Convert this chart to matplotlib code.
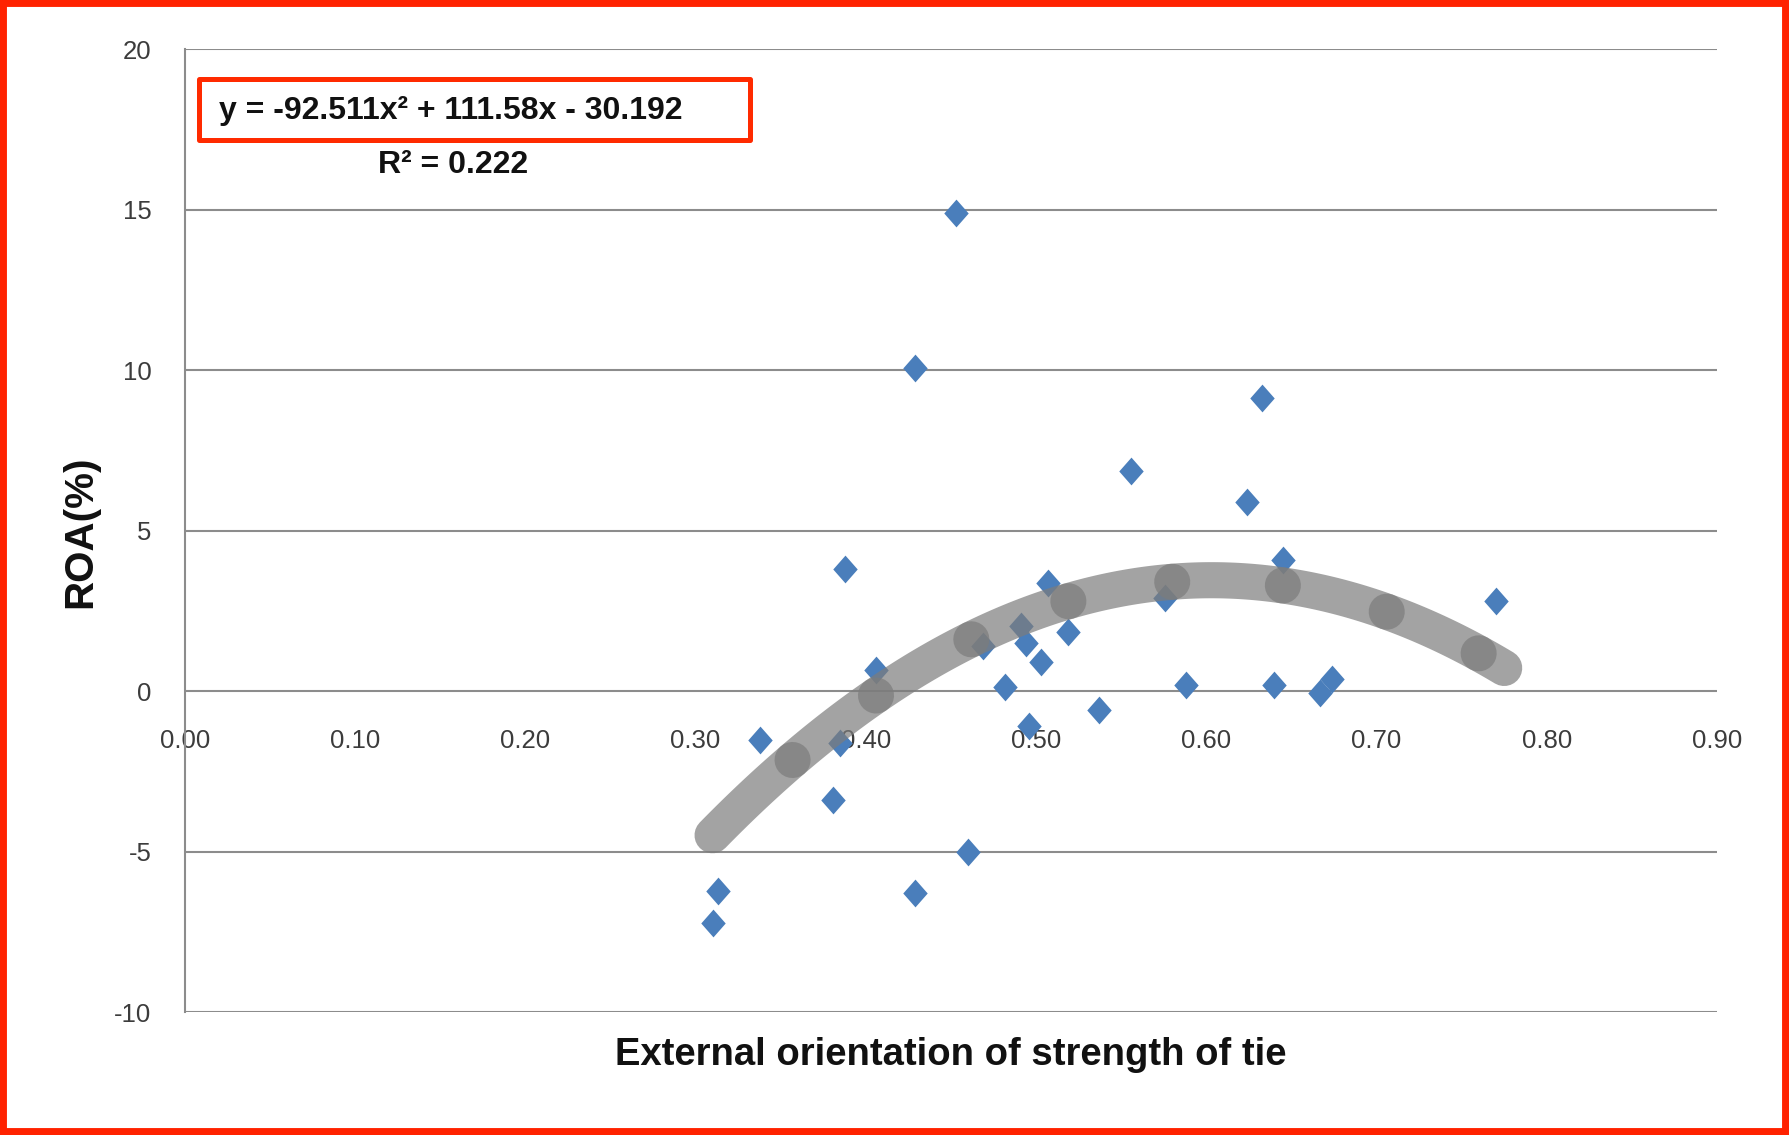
import numpy as np
import matplotlib
matplotlib.use("Agg")
import matplotlib.pyplot as plt
from matplotlib.patches import Rectangle
from matplotlib.path import Path

# ---- data ----
x_vals = [0.453, 0.429, 0.633, 0.556, 0.624, 0.388, 0.645, 0.507, 0.770, 0.576,
          0.491, 0.519, 0.494, 0.469, 0.503, 0.482, 0.496, 0.537, 0.588, 0.640,
          0.667, 0.674, 0.406, 0.338, 0.385, 0.381, 0.313, 0.310, 0.429, 0.460]
y_vals = [14.89, 10.07, 9.13, 6.84, 5.89, 3.80, 4.07, 3.38, 2.81, 2.90,
          2.02, 1.85, 1.50, 1.40, 0.89, 0.12, -1.10, -0.58, 0.20, 0.20,
          -0.06, 0.37, 0.67, -1.54, -1.62, -3.38, -6.24, -7.22, -6.28, -5.03]

trend_coef = [-92.511, 111.58, -30.192]          # quadratic trendline shown on chart
trend_knots = [0.310, 0.357, 0.406, 0.462, 0.519, 0.580, 0.645, 0.706, 0.760, 0.775]

x_ticks = [0.0, 0.1, 0.2, 0.3, 0.4, 0.5, 0.6, 0.7, 0.8, 0.9]
x_tick_labels = ["0.00", "0.10", "0.20", "0.30", "0.40", "0.50", "0.60", "0.70", "0.80", "0.90"]
y_ticks = [-10, -5, 0, 5, 10, 15, 20]
y_tick_labels = ["-10", "-5", "0", "5", "10", "15", "20"]

equation_label = "y = -92.511x\u00b2 + 111.58x - 30.192"
r2_label = "R\u00b2 = 0.222"
x_title = "External orientation of strength of tie"
y_title = "ROA(%)"

# ---- style ----
plt.rcParams["font.family"] = ["Liberation Sans", "DejaVu Sans"]
W, H = 1789, 1135
fig = plt.figure(figsize=(W / 100, H / 100), dpi=100)
fig.patch.set_facecolor("white")

ax_l, ax_r, ax_t, ax_b = 184.8, 1717.0, 49.1, 1012.0
ax = fig.add_axes([ax_l / W, 1 - ax_b / H, (ax_r - ax_l) / W, (ax_b - ax_t) / H])
ax.set_xlim(0, 0.9)
ax.set_ylim(-10, 20)

grid_col = "#8c8c8c"
ax.set_yticks(y_ticks)
ax.set_yticklabels(y_tick_labels)
ax.set_xticks(x_ticks)
ax.set_xticklabels(x_tick_labels)
ax.yaxis.grid(True, color=grid_col, lw=1.5, zorder=0)
ax.set_axisbelow(True)

for s in ["top", "right"]:
    ax.spines[s].set_visible(False)
ax.spines["left"].set_color(grid_col)
ax.spines["left"].set_linewidth(1.5)
ax.spines["bottom"].set_position(("data", 0))
ax.spines["bottom"].set_visible(False)

ax.tick_params(axis="x", length=0, pad=27, labelsize=18.5, labelcolor="#3c3c3c")
ax.tick_params(axis="y", length=0, pad=24, labelsize=18.5, labelcolor="#3c3c3c")

# diamonds (slightly taller than wide)
diamond = Path([(0, 1), (0.88, 0), (0, -1), (-0.88, 0), (0, 1)],
               [Path.MOVETO, Path.LINETO, Path.LINETO, Path.LINETO, Path.CLOSEPOLY])
ax.plot(x_vals, y_vals, linestyle="none", marker=diamond, markersize=20,
        color="#4a7ebb", markeredgewidth=0, zorder=3)

# trendline drawn as overlapping translucent segments (darker joints)
poly = np.poly1d(trend_coef)
for k0, k1 in zip(trend_knots[:-1], trend_knots[1:]):
    xs = np.linspace(k0, k1, 40)
    ax.plot(xs, poly(xs), color="#7c7c7c", alpha=0.7, lw=26,
            solid_capstyle="round", zorder=4)

# equation & R^2
fig.text(451 / W, 1 - 110.7 / H, equation_label, ha="center", va="center",
         fontsize=23, fontweight="bold", color="#111111")
fig.text(453 / W, 1 - 165.4 / H, r2_label, ha="center", va="center",
         fontsize=23, fontweight="bold", color="#111111")
fig.patches.append(Rectangle((198.5 / W, 1 - 139.5 / H), (749.5 - 198.5) / W, (139.5 - 79) / H,
                             transform=fig.transFigure, fill=False, ec="#ff2a00",
                             lw=3.6, joinstyle="round", figure=fig))

# axis titles
fig.text(951 / W, 1 - 1055 / H, x_title, ha="center", va="center",
         fontsize=27.5, fontweight="bold", color="#111111")
fig.text(80 / W, 1 - 532 / H, y_title, ha="center", va="center", rotation=90,
         fontsize=29, fontweight="bold", color="#111111")

# red outer frame
fig.patches.append(Rectangle((0, 0), 1, 1, transform=fig.transFigure, fill=False,
                             ec="#ff2200", lw=10, figure=fig))

fig.savefig("out.png", dpi=100, facecolor="white")
